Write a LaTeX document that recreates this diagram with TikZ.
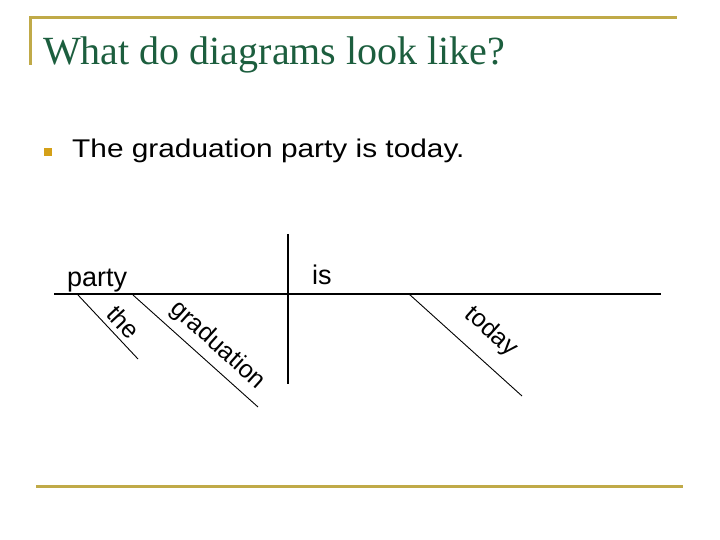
\documentclass[tikz,border=0pt]{standalone}
\usepackage{fontspec}
\setmainfont{Liberation Sans}
\newfontfamily\titlefont{Liberation Serif}
\definecolor{titlegreen}{RGB}{28,94,62}
\definecolor{goldline}{RGB}{192,170,72}
\definecolor{bulletgold}{RGB}{212,160,24}
\tikzset{
  frameline/.style={draw=goldline, line width=3bp},
  mainline/.style={draw=black, line width=1.4bp},
  modline/.style={draw=black, line width=0.9bp},
  word/.style={inner sep=0pt, font=\fontsize{27bp}{30bp}\selectfont},
  slword/.style={inner sep=0pt, font=\fontsize{25bp}{28bp}\selectfont},
}
\begin{document}
\begin{tikzpicture}[x=1bp,y=-1bp]
\useasboundingbox (0,0) rectangle (720,540);
% frame
\coordinate (ft0) at (30,65);
\coordinate (ft1) at (30,17.5);
\coordinate (ft2) at (677,17.5);
\coordinate (fb1) at (36,486);
\coordinate (fb2) at (683,486);
\draw[frameline] (ft0) -- (ft1) -- (ft2);
\draw[frameline] (fb1) -- (fb2);
% title
\node[anchor=base west, inner sep=0pt, text=titlegreen, font=\titlefont\fontsize{40bp}{44bp}\selectfont] (title) at (43,65) {What do diagrams look like?};
% bullet
\node[fill=bulletgold, minimum size=8bp, inner sep=0pt] (bul) at (48,152) {};
\node[anchor=base west, inner sep=0pt, font=\fontsize{25.6bp}{30bp}\selectfont] (sent) at (72,157.5) {\scalebox{1.165}[1]{The graduation party is today.}};
% diagram lines
\coordinate (h1) at (54,294);
\coordinate (h2) at (661,294);
\coordinate (v1) at (288,234);
\coordinate (v2) at (288,384);
\coordinate (t1) at (78,295);
\coordinate (t2) at (138,359);
\coordinate (g1) at (133,295);
\coordinate (g2) at (258,407);
\coordinate (d1) at (409,294);
\coordinate (d2) at (522,396);
\draw[mainline] (h1) -- (h2);
\draw[mainline] (v1) -- (v2);
\draw[modline] (t1) -- (t2);
\draw[modline] (g1) -- (g2);
\draw[modline] (d1) -- (d2);
% words
\node[word, anchor=base west] (party) at (67,287) {party};
\node[word, anchor=base west] (is) at (312,285) {is};
\node[slword, rotate=-47] (the) at (123.5,322) {the};
\node[slword, rotate=-42] (grad) at (217.5,345.5) {graduation};
\node[slword, rotate=-42] (today) at (491,332) {today};
\end{tikzpicture}
\end{document}
